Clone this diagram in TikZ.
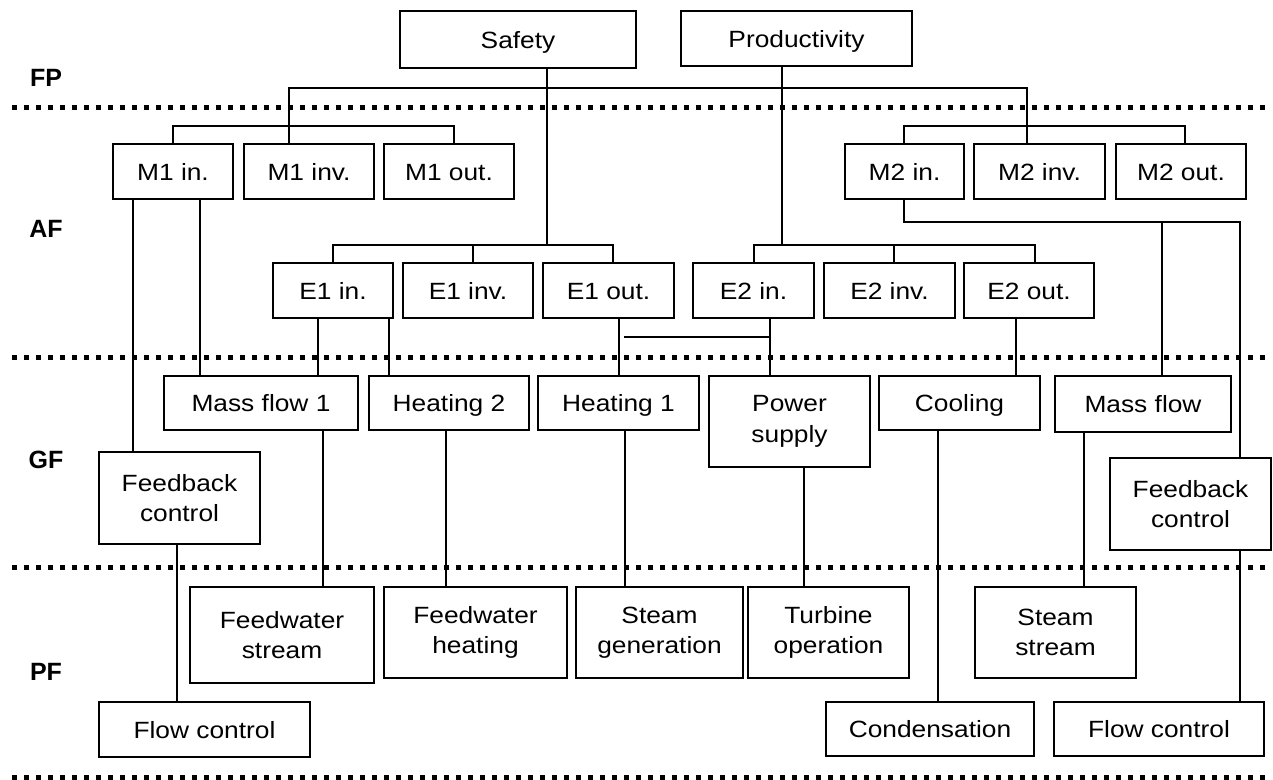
\documentclass[tikz,border=0pt]{standalone}
\usepackage{fontspec}
\setmainfont{Liberation Sans}[FakeStretch=1.12]
\newfontfamily\labfont{Liberation Sans}
\begin{document}
\begin{tikzpicture}[x=1pt,y=-1pt,
  box/.style={draw, line width=1.8pt, inner sep=0pt, align=center, font=\fontsize{23.5}{30.5}\selectfont},
  one/.style={box, text height=17pt, text depth=0pt},
  conn/.style={line width=1.4pt},
  sep/.style={line width=5pt, dash pattern=on 5pt off 7pt},
  lab/.style={font=\labfont\fontsize{25}{30}\selectfont\bfseries}]
\newcommand\vconn[3]{\draw[conn] (#2.south -| #1,0) -- (#3.north -| #1,0);}
\path[fill=white] (0,0) rectangle (1273,779);
\useasboundingbox (0,0) rectangle (1273,779);

% separators
\draw[sep] (12,107) -- (1268,107);
\draw[sep] (12,357) -- (1268,357);
\draw[sep] (12,567) -- (1268,567);
\draw[sep] (12,777) -- (1268,777);

% level labels
\node[lab] (lFP) at (46,78) {FP};
\node[lab] (lAF) at (46,229) {AF};
\node[lab] (lGF) at (46,460) {GF};
\node[lab] (lPF) at (46,672) {PF};

% FP
\node[one, minimum width=236pt, minimum height=57pt] (safety) at (518,39.5) {Safety};
\node[one, minimum width=231pt, minimum height=55pt] (prod) at (796.5,38.5) {Productivity};

% AF - M
\node[one, minimum width=120pt, minimum height=55pt] (m1in) at (173,171.5) {M1 in.};
\node[one, minimum width=130pt, minimum height=55pt] (m1inv) at (309,171.5) {M1 inv.};
\node[one, minimum width=130pt, minimum height=55pt] (m1out) at (449,171.5) {M1 out.};
\node[one, minimum width=119pt, minimum height=55pt] (m2in) at (904.5,171.5) {M2 in.};
\node[one, minimum width=131pt, minimum height=55pt] (m2inv) at (1039.5,171.5) {M2 inv.};
\node[one, minimum width=130pt, minimum height=55pt] (m2out) at (1181,171.5) {M2 out.};

% AF - E
\node[one, minimum width=120pt, minimum height=55pt] (e1in) at (333,290.5) {E1 in.};
\node[one, minimum width=130pt, minimum height=55pt] (e1inv) at (468,290.5) {E1 inv.};
\node[one, minimum width=131pt, minimum height=55pt] (e1out) at (608.5,290.5) {E1 out.};
\node[one, minimum width=121pt, minimum height=55pt] (e2in) at (753.5,290.5) {E2 in.};
\node[one, minimum width=131pt, minimum height=55pt] (e2inv) at (889.5,290.5) {E2 inv.};
\node[one, minimum width=130pt, minimum height=55pt] (e2out) at (1029,290.5) {E2 out.};

% GF
\node[one, minimum width=194pt, minimum height=54pt] (mf1) at (261,403) {Mass flow 1};
\node[one, minimum width=160pt, minimum height=54pt] (h2) at (449,403) {Heating 2};
\node[one, minimum width=161pt, minimum height=54pt] (h1) at (618.5,403) {Heating 1};
\node[box, minimum width=161pt, minimum height=91pt] (ps) at (789.5,421.5) {Power\\supply};
\node[one, minimum width=161pt, minimum height=54pt] (cool) at (959.5,403) {Cooling};
\node[one, minimum width=176pt, minimum height=56pt] (mf) at (1143,404) {Mass flow};
\node[box, minimum width=161pt, minimum height=92pt] (fbL) at (179.5,498) {Feedback\\control};
\node[box, minimum width=161pt, minimum height=92pt] (fbR) at (1190.5,504) {Feedback\\control};

% PF
\node[box, minimum width=184pt, minimum height=96pt] (fws) at (282,635) {Feedwater\\stream};
\node[box, minimum width=183pt, minimum height=91pt] (fwh) at (475.5,632.5) {Feedwater\\heating};
\node[box, minimum width=167pt, minimum height=91pt] (sg) at (659.5,632.5) {Steam\\generation};
\node[box, minimum width=161pt, minimum height=91pt] (to) at (828.5,632.5) {Turbine\\operation};
\node[box, minimum width=161pt, minimum height=91pt] (ss) at (1055.5,632.5) {Steam\\stream};
\node[one, minimum width=211pt, minimum height=55pt] (fcL) at (204.5,729.5) {Flow control};
\node[one, minimum width=208pt, minimum height=54pt] (cond) at (930,729) {Condensation};
\node[one, minimum width=210pt, minimum height=54pt] (fcR) at (1159,729) {Flow control};

% FP connectors
\coordinate (jA) at (289,88);
\coordinate (jB) at (1027,88);
\draw[conn] (m1inv.north -| jA) -- (jA) -- (jB) -- (m2inv.north -| jB);
\coordinate (jS) at (547,245);
\draw[conn] (safety.south -| jS) -- (jS);
\coordinate (jP) at (782,245);
\draw[conn] (prod.south -| jP) -- (jP);

% M buses
\coordinate (m1L) at (173,126); \coordinate (m1R) at (454,126);
\draw[conn] (m1in.north -| m1L) -- (m1L) -- (m1R) -- (m1out.north -| m1R);
\coordinate (m2L) at (904,126); \coordinate (m2R) at (1185,126);
\draw[conn] (m2in.north -| m2L) -- (m2L) -- (m2R) -- (m2out.north -| m2R);

% E buses
\coordinate (e1L) at (333,245); \coordinate (e1M) at (473,245); \coordinate (e1R) at (613,245);
\draw[conn] (e1in.north -| e1L) -- (e1L) -- (e1R) -- (e1out.north -| e1R);
\draw[conn] (e1M) -- (e1inv.north -| e1M);
\coordinate (e2L) at (754,245); \coordinate (e2M) at (894,245); \coordinate (e2R) at (1035,245);
\draw[conn] (e2in.north -| e2L) -- (e2L) -- (e2R) -- (e2out.north -| e2R);
\draw[conn] (e2M) -- (e2inv.north -| e2M);

% AF -> GF
\vconn{133}{m1in}{fbL}
\vconn{200}{m1in}{mf1}
\vconn{318}{e1in}{mf1}
\vconn{389}{e1in}{h2}
\vconn{619}{e1out}{h1}
\vconn{770}{e2in}{ps}
\vconn{1016}{e2out}{cool}
\coordinate (hj) at (624,337);
\draw[conn] (hj) -- (hj -| 771,0);
\coordinate (k1) at (904,222); \coordinate (k2) at (1240,222); \coordinate (k3) at (1162,222);
\draw[conn] (m2in.south -| k1) -- (k1) -- (k2) -- (fbR.north -| k2);
\draw[conn] (k3) -- (mf.north -| k3);

% GF -> PF
\vconn{323}{mf1}{fws}
\vconn{446}{h2}{fwh}
\vconn{625}{h1}{sg}
\vconn{804}{ps}{to}
\vconn{938}{cool}{cond}
\vconn{1084}{mf}{ss}
\vconn{177}{fbL}{fcL}
\vconn{1240}{fbR}{fcR}
\end{tikzpicture}
\end{document}
